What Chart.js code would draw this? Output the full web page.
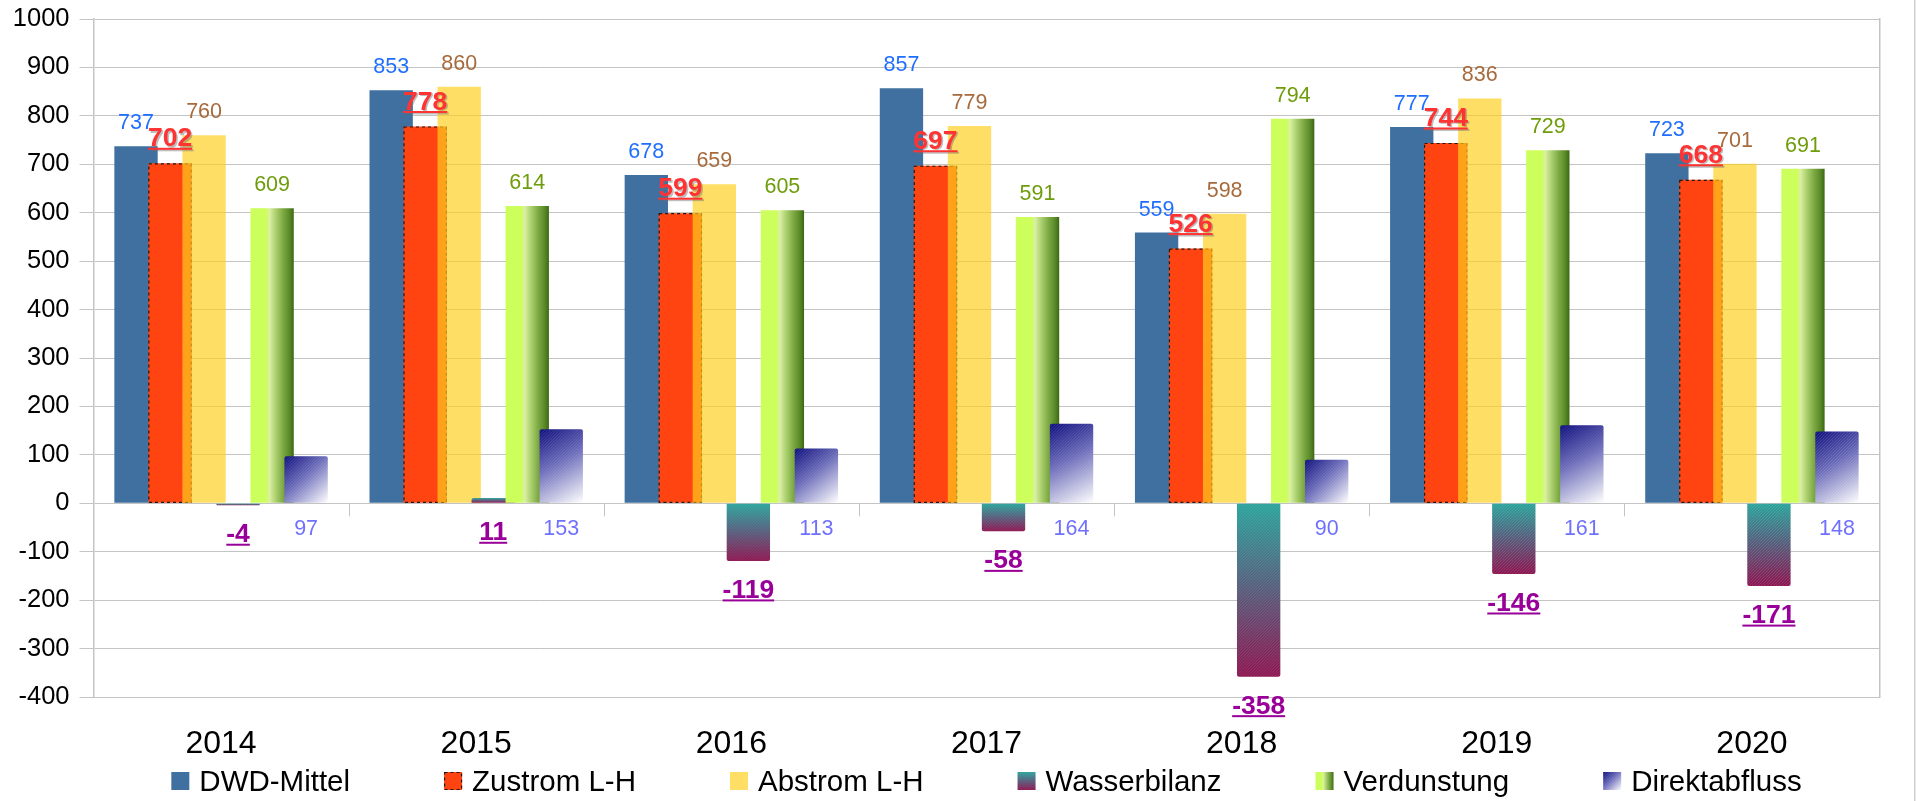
<!DOCTYPE html>
<html lang="de">
<head>
<meta charset="utf-8">
<title>Wasserbilanz 2014–2020</title>
<script src="https://cdn.jsdelivr.net/npm/chart.js@4.4.1/dist/chart.umd.min.js"></script>
<style>
    html, body { margin: 0; padding: 0; background: #fff; }
    #wrap { position: relative; width: 1917px; height: 801px; }
</style>
</head>
<body>
<div id="wrap"><canvas id="chart"></canvas></div>
<script>
// Werte in mm
const years = ['2014', '2015', '2016', '2017', '2018', '2019', '2020'];
const dwdMittel = [737, 853, 678, 857, 559, 777, 723];
const zustrom = [702, 778, 599, 697, 526, 744, 668];
const abstrom = [760, 860, 659, 779, 598, 836, 701];
const wasserbilanz = [-4, 11, -119, -58, -358, -146, -171];
const verdunstung = [609, 614, 605, 591, 794, 729, 691];
const direktabfluss = [97, 153, 113, 164, 90, 161, 148];
const seriesNames = ['DWD-Mittel', 'Zustrom L-H', 'Abstrom L-H', 'Wasserbilanz', 'Verdunstung', 'Direktabfluss'];
const yMin = -400;
const yMax = 1000;
const yStep = 100;

const FONT = "'Liberation Sans', Arial, sans-serif";
const GRID = '#c4c4c4';

Chart.defaults.font.family = FONT;
Chart.defaults.color = '#000';

// label colour / weight / placement per series
const labelStyle = [
    { color: '#1f6fff', bold: false, under: false, where: 'above' },
    { color: '#ff3333', bold: true, under: true, where: 'above', shadow: true },
    { color: '#a66a3c', bold: false, under: false, where: 'above' },
    { color: '#990099', bold: true, under: true, where: 'below' },
    { color: '#6e9c0a', bold: false, under: false, where: 'above' },
    { color: '#7070ff', bold: false, under: false, where: 'zero' },
];

function rectOf(bar) {
    const half = bar.width / 2;
    return {
        l: bar.x - half, r: bar.x + half,
        t: Math.min(bar.y, bar.base), b: Math.max(bar.y, bar.base),
    };
}

// gradient fills, built per bar from its own rectangle
const fills = {
    3: (ctx, r) => {
        const g = ctx.createLinearGradient(0, r.t, 0, r.b);
        g.addColorStop(0, '#2aa39b');
        g.addColorStop(0.45, '#52627e');
        g.addColorStop(1, '#8c1550');
        return g;
    },
    4: (ctx, r) => {
        const g = ctx.createLinearGradient(r.l, 0, r.r, 0);
        g.addColorStop(0, '#ccff5c');
        g.addColorStop(0.37, '#ccff5c');
        g.addColorStop(0.44, '#dbefa6');
        g.addColorStop(0.56, '#b3d676');
        g.addColorStop(0.75, '#7eaa44');
        g.addColorStop(0.9, '#5a8a28');
        g.addColorStop(1, '#3c6812');
        return g;
    },
    5: (ctx, r) => {
        const g = ctx.createLinearGradient(r.l, r.t, r.r, r.b);
        g.addColorStop(0, '#0d0d7d');
        g.addColorStop(0.45, '#6d6dbb');
        g.addColorStop(1, '#ffffff');
        return g;
    },
};

function hatch(ctx, r) {
    const h = r.b - r.t;
    ctx.save();
    ctx.beginPath();
    ctx.rect(r.l, r.t, r.r - r.l, h);
    ctx.clip();
    ctx.strokeStyle = 'rgba(255,255,255,0.13)';
    ctx.lineWidth = 1;
    ctx.beginPath();
    for (let k = r.l - h; k < r.r; k += 3) {
        ctx.moveTo(k, r.b);
        ctx.lineTo(k + h, r.t);
    }
    ctx.stroke();
    ctx.restore();
}

function dashedOutline(ctx, r) {
    ctx.save();
    ctx.setLineDash([3, 3]);
    ctx.strokeStyle = '#1a1a1a';
    ctx.lineWidth = 1.2;
    ctx.strokeRect(r.l + 0.5, r.t + 0.5, r.r - r.l - 1, r.b - r.t - 1);
    ctx.restore();
}

const colors = ['#4070a0', '#ff4411', 'rgba(255, 206, 30, 0.68)', '#2aa39b', '#ccff5c', '#0d0d7d'];

function drawMarker(ctx, i, x, y, s) {
    const r = { l: x, r: x + s, t: y, b: y + s };
    ctx.fillStyle = fills[i] ? fills[i](ctx, r) : colors[i];
    ctx.fillRect(x, y, s, s);
    if (i === 3 || i === 5) hatch(ctx, r);
    if (i === 1) dashedOutline(ctx, r);
}

// draws series in index order so later bars overlap earlier ones,
// plus the tick marks on the zero line
const barPainter = {
    id: 'barPainter',
    beforeDatasetsDraw(chart) {
        const { ctx, chartArea: a, scales: { x, y } } = chart;
        const zero = y.getPixelForValue(0);
        const step = x.width / years.length;
        ctx.save();
        ctx.strokeStyle = GRID;
        ctx.lineWidth = 1;
        ctx.beginPath();
        for (let k = 1; k < years.length; k++) {
            const px = Math.round(x.left + k * step) + 0.5;
            ctx.moveTo(px, zero);
            ctx.lineTo(px, zero + 13);
        }
        ctx.stroke();

        ctx.beginPath();
        ctx.rect(a.left, a.top, a.width, a.height);
        ctx.clip();
        chart.data.datasets.forEach((ds, i) => {
            const meta = chart.getDatasetMeta(i);
            if (meta.hidden) return;
            if (fills[i]) {
                meta.data.forEach(bar => {
                    bar.options = Object.assign({}, bar.options, { backgroundColor: fills[i](ctx, rectOf(bar)) });
                });
            }
            meta.controller.draw();
            meta.data.forEach(bar => {
                if (i === 3 || i === 5) hatch(ctx, rectOf(bar));
                if (i === 1) dashedOutline(ctx, rectOf(bar));
            });
        });
        ctx.restore();
        return false;
    },
    afterDraw(chart) {
        const { ctx, chartArea: a, scales: { y } } = chart;
        const zero = y.getPixelForValue(0);

        // value labels
        chart.data.datasets.forEach((ds, i) => {
            const st = labelStyle[i];
            const meta = chart.getDatasetMeta(i);
            ctx.save();
            ctx.font = (st.bold ? 'bold 26.5px ' : '21.5px ') + FONT;
            ctx.textAlign = 'center';
            ctx.textBaseline = 'alphabetic';
            meta.data.forEach((bar, j) => {
                const text = String(ds.data[j]);
                let base;
                if (st.where === 'above') base = bar.y - 17;
                else if (st.where === 'below') base = Math.max(bar.y, zero) + 37;
                else base = zero + 32;
                const w = ctx.measureText(text).width;
                if (st.shadow) {
                    ctx.fillStyle = 'rgba(110, 110, 110, 0.45)';
                    ctx.fillText(text, bar.x + 1.5, base + 1.5);
                    ctx.fillRect(bar.x - w / 2 + 1.5, base + 3, w, 2);
                }
                ctx.fillStyle = st.color;
                ctx.fillText(text, bar.x, base);
                if (st.under) ctx.fillRect(bar.x - w / 2, base + 1.5, w, 2);
            });
            ctx.restore();
        });

        // legend
        ctx.save();
        ctx.font = '29.5px ' + FONT;
        ctx.textBaseline = 'alphabetic';
        const widths = seriesNames.map(t => ctx.measureText(t).width);
        const gap = 94;
        const total = widths.reduce((s, w) => s + 28 + w, 0) + gap * (seriesNames.length - 1);
        const top = chart.height - 29;
        let lx = (a.left + a.right) / 2 - total / 2;
        seriesNames.forEach((name, i) => {
            drawMarker(ctx, i, lx, top, 18);
            ctx.fillStyle = '#000';
            ctx.fillText(name, lx + 28, top + 18.5);
            lx += 28 + widths[i] + gap;
        });

        // page frame on the right
        ctx.fillStyle = '#d0d0d0';
        ctx.fillRect(chart.width - 3, 0, 1.5, chart.height);
        ctx.restore();
    },
};

const series = [dwdMittel, zustrom, abstrom, wasserbilanz, verdunstung, direktabfluss];

new Chart(document.getElementById('chart'), {
    type: 'bar',
    data: {
        labels: years,
        datasets: series.map((data, i) => ({
            label: seriesNames[i],
            data,
            backgroundColor: colors[i],
            borderWidth: 0,
            borderRadius: (i === 3 || i === 5) ? 2 : 0,
        })),
    },
    options: {
        responsive: true,
        maintainAspectRatio: false,
        animation: false,
        events: [],
        layout: { padding: { top: 19, left: 0, right: 0, bottom: 0 } },
        datasets: {
            bar: { categoryPercentage: 0.8, barPercentage: 1.274 },
        },
        plugins: {
            legend: { display: false },
            tooltip: { enabled: false },
        },
        scales: {
            x: {
                grid: { display: false },
                border: { display: true, color: GRID },
                ticks: { color: '#000', font: { size: 32 }, padding: 20 },
                afterFit: (s) => { s.height = 104; },
            },
            y: {
                min: yMin,
                max: yMax,
                ticks: {
                    stepSize: yStep,
                    color: '#000',
                    font: { size: 25.5 },
                    padding: 10,
                    callback: (v) => String(v),
                },
                grid: { color: GRID, tickColor: GRID, tickLength: 14 },
                border: { color: GRID, width: 1.5 },
                afterFit: (s) => {
                    s.width = 93.5;
                    s.paddingTop = 0;
                    s.paddingBottom = 0;
                },
            },
            yRight: {
                position: 'right',
                display: true,
                ticks: { display: false },
                grid: { drawOnChartArea: false, drawTicks: false },
                border: { color: GRID, width: 1.5 },
                afterFit: (s) => { s.width = 37.5; },
            },
        },
    },
    plugins: [barPainter],
});
</script>
</body>
</html>
